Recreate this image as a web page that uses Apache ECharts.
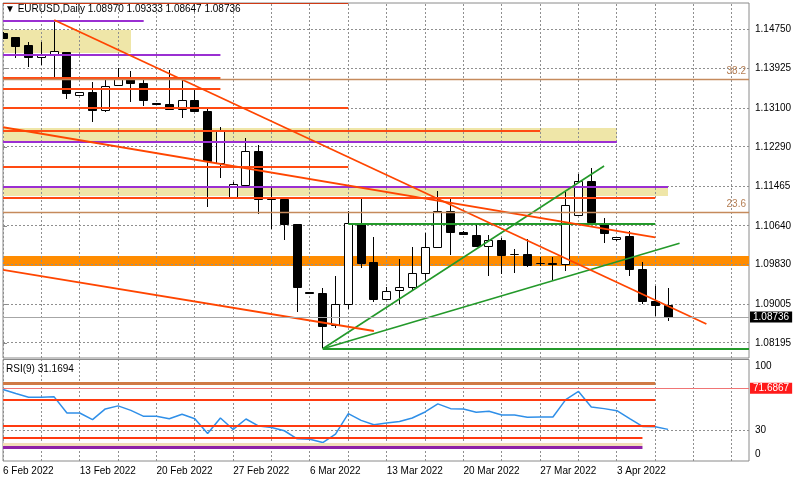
<!DOCTYPE html>
<html><head><meta charset="utf-8">
<script src="https://cdn.jsdelivr.net/npm/echarts@6/dist/echarts.min.js"></script>
<style>html,body{margin:0;padding:0;background:#fff}#c{width:800px;height:480px}</style>
</head><body><div id="c"></div>
<script>
// ---------------- data ----------------
const symbolName = 'EURUSD,Daily';
const weekLabels = ['6 Feb 2022','13 Feb 2022','20 Feb 2022','27 Feb 2022','6 Mar 2022','13 Mar 2022','20 Mar 2022','27 Mar 2022','3 Apr 2022'];
const priceTicks = [1.14750, 1.13925, 1.13100, 1.12290, 1.11465, 1.10640, 1.09830, 1.09005, 1.08195];
const rsiTicks = [0, 30, 100];
// [open, high, low, close], one per daily bar starting 6 Feb 2022 (Sun..Fri)
const candles = [
 [1.14656,1.14687,1.14541,1.14562],
 [1.14568,1.14589,1.14138,1.14395],
 [1.14401,1.14484,1.13963,1.14150],
 [1.14150,1.14484,1.13998,1.14207],
 [1.14221,1.14937,1.13754,1.14276],
 [1.14263,1.14269,1.13288,1.13407],
 [1.13357,1.13434,1.13351,1.13428],
 [1.13428,1.13643,1.12802,1.13052],
 [1.13044,1.13685,1.13023,1.13560],
 [1.13566,1.13942,1.13560,1.13706],
 [1.13706,1.13873,1.13232,1.13616],
 [1.13616,1.13754,1.13142,1.13253],
 [1.13190,1.13194,1.13173,1.13184],
 [1.13178,1.13894,1.13059,1.13073],
 [1.13073,1.13685,1.12885,1.13267],
 [1.13267,1.13476,1.13017,1.13023],
 [1.13038,1.13094,1.11040,1.11994],
 [1.11946,1.12710,1.11645,1.12641],
 [1.11236,1.11555,1.11228,1.11507],
 [1.11493,1.12480,1.11472,1.12188],
 [1.12188,1.12328,1.10887,1.11194],
 [1.11207,1.11424,1.10568,1.11194],
 [1.11200,1.11211,1.10345,1.10658],
 [1.10658,1.10669,1.08848,1.09357],
 [1.09249,1.09259,1.09228,1.09238],
 [1.09232,1.09336,1.08084,1.08535],
 [1.08570,1.09593,1.08501,1.09008],
 [1.09008,1.10956,1.08898,1.10679],
 [1.10658,1.11194,1.09754,1.09858],
 [1.09871,1.10413,1.09056,1.09107],
 [1.09107,1.09370,1.09092,1.09265],
 [1.09286,1.09942,1.09008,1.09357],
 [1.09357,1.10192,1.09286,1.09649],
 [1.09649,1.10484,1.09509,1.10192],
 [1.10184,1.11374,1.10178,1.10935],
 [1.10935,1.11194,1.10031,1.10505],
 [1.10505,1.10532,1.10449,1.10455],
 [1.10449,1.10658,1.10198,1.10205],
 [1.10205,1.10449,1.09593,1.10324],
 [1.10324,1.10380,1.09635,1.10011],
 [1.10052,1.10150,1.09662,1.10042],
 [1.10052,1.10359,1.09791,1.09802],
 [1.09864,1.09996,1.09802,1.09854],
 [1.09844,1.09996,1.09509,1.09833],
 [1.09837,1.11353,1.09704,1.11061],
 [1.10866,1.11722,1.10866,1.11576],
 [1.11576,1.11841,1.10699,1.10706],
 [1.10658,1.10798,1.10288,1.10470],
 [1.10345,1.10407,1.10334,1.10401],
 [1.10413,1.10539,1.09593,1.09733],
 [1.09733,1.09892,1.09008,1.09071],
 [1.09056,1.09384,1.08758,1.08973],
 [1.08970,1.09333,1.08647,1.08736]
];
const rsiValues = [70.5,66.5,62.8,62.8,63.2,47.3,47.3,40.7,51.3,54.3,49.9,44.0,44.0,41.7,46.0,41.7,27.1,42.4,31.1,41.4,
 34.4,33.1,29.8,21.8,21.5,18.2,26.5,46.7,40.0,35.7,37.4,39.0,42.4,48.3,56.3,51.6,51.3,48.0,49.0,45.3,
 45.3,43.0,43.4,43.4,60.5,68.5,53.3,51.6,49.6,41.7,34.1,33.7,31.1694];
const rsiPeriod = 9;
const bidPrice = 1.08736;
// horizontal levels: [price, fromBar, toBar]
const purpleLevels = [[1.14910,0,11],[1.14213,0,17],[1.12384,0,48],[1.11457,0,52]];
const orangeLevels = [[1.13733,0,17],[1.13491,0,17],[1.13107,0,27],[1.12620,0,42],[1.11875,0,27],[1.11215,0,51]];
const topLevels = [[1.15288,0,27]];
const greenLevels = [[1.10679,27,51],[1.08075,25,60]];
const fibLevels = [[38.2,1.13706],[23.6,1.10914]];
// trend lines: [bar1, price1, bar2, price2]
const greenTrends = [[25,1.08075,47,1.11889],[25,1.08075,52.9,1.10276]];
const redTrends = [[4,1.14937,55,1.08591],[0,1.12699,51,1.10401],[0,1.09722,29,1.08445]];
// zones: [topPrice, bottomPrice, fromBar, toBar]
const yellowZones = [[1.14729,1.14255,0,10],[1.12688,1.12417,0,48],[1.11440,1.11263,0,52]];
const orangeBands = [[1.10011,1.09802,0,60]];
// RSI levels: [value, fromBar, toBar]
const rsiBrownLevels = [[76.6,0,51]];
const rsiRedLevels = [[59.7,0,51],[34.8,0,51],[22.9,0,50]];
const rsiBeigeLevels = [[16.6,0,50]];
const rsiPurpleLevels = [[13.2,0,50]];
const rsiMarkLevel = 71.6867;
const rsiGridLevels = [30];

// ---------------- layout / style ----------------
const FONT = 'Liberation Sans';
const FS = 10;
const X_MAX = 58.33;
const Y_MIN = 1.07881, Y_MAX = 1.15293;

const chart = echarts.init(document.getElementById('c'));

function clipOf(cs){ return {type:'rect', shape:{x:cs.x, y:cs.y, width:cs.width, height:cs.height}}; }

function segSeries(gi, segs, style, z){
  return {
    type:'custom', xAxisIndex:gi, yAxisIndex:gi, data:segs, z:z, silent:true, animation:false,
    renderItem:function(params, api){
      const a = api.coord([api.value(0), api.value(1)]);
      const b = api.coord([api.value(2), api.value(3)]);
      const w = style.lineWidth || 1;
      const snap = v => (w % 2 === 1) ? Math.round(v - 0.5) + 0.5 : Math.round(v);
      if (Math.abs(a[0]-b[0]) < 0.01) { a[0] = b[0] = snap(a[0]); }
      if (Math.abs(a[1]-b[1]) < 0.01) { a[1] = b[1] = snap(a[1]); }
      return {type:'line', shape:{x1:a[0],y1:a[1],x2:b[0],y2:b[1]},
        style:Object.assign({fill:null}, style), clipPath:clipOf(params.coordSys)};
    }
  };
}
function levelSegs(levels){ return levels.map(l => [l[1], l[0], l[2], l[0]]); }

function zoneSeries(gi, zones, color, z){
  return {
    type:'custom', xAxisIndex:gi, yAxisIndex:gi, data:zones, z:z, silent:true, animation:false,
    renderItem:function(params, api){
      const p1 = api.coord([api.value(2), api.value(0)]);
      const p2 = api.coord([api.value(3), api.value(1)]);
      const y1 = Math.round(Math.min(p1[1],p2[1])), y2 = Math.round(Math.max(p1[1],p2[1]));
      return {type:'rect', shape:{x:Math.round(p1[0]), y:y1, width:Math.round(p2[0]-p1[0]), height:y2-y1},
        style:{fill:color}, clipPath:clipOf(params.coordSys)};
    }
  };
}

// grid segments
const vGridSegsMain = [], vGridSegsRsi = [];
for (let i = 0; i <= X_MAX; i += 3) { vGridSegsMain.push([i, Y_MIN, i, Y_MAX]); vGridSegsRsi.push([i, 0, i, 100]); }
const hGridSegsMain = priceTicks.map(p => [0, p, X_MAX, p]);
const hGridSegsRsi = rsiGridLevels.map(v => [0, v, X_MAX, v]);
const gridStyle = {stroke:'#8f8f8f', lineWidth:1, lineDash:[2,2]};

const last = candles[candles.length-1];
const titleText = '\u25BC ' + symbolName + ' ' + last.map(v => v.toFixed(5)).join(' ');
const rsiTitle = 'RSI(' + rsiPeriod + ') ' + rsiValues[rsiValues.length-1].toFixed(4);

const candleSeries = {
  type:'custom', xAxisIndex:0, yAxisIndex:0, z:3, silent:true, animation:false,
  data:candles.map((c,i) => [i, c[0], c[1], c[2], c[3]]),
  renderItem:function(params, api){
    const i = api.value(0), o = api.value(1), h = api.value(2), l = api.value(3), c = api.value(4);
    const pO = api.coord([i,o]), pH = api.coord([i,h]), pL = api.coord([i,l]), pC = api.coord([i,c]);
    const x = Math.round(pO[0] - 0.5) + 0.5;
    const top = Math.round(Math.min(pO[1], pC[1]) - 0.5) + 0.5;
    const bot = Math.round(Math.max(pO[1], pC[1]) - 0.5) + 0.5;
    const bull = c >= o;
    return {type:'group', clipPath:clipOf(params.coordSys), children:[
      {type:'line', shape:{x1:x, y1:Math.round(pH[1]), x2:x, y2:Math.round(pL[1])}, style:{stroke:'#000', lineWidth:1}},
      {type:'rect', shape:{x:x-4, y:top, width:8, height:Math.max(bot-top,0)},
        style:{fill: bull ? '#fff' : '#000', stroke:'#000', lineWidth:1}}
    ]};
  }
};

const labelBase = {fontFamily:FONT, fontSize:FS, color:'#000'};

const option = {
  backgroundColor:'#fff',
  animation:false,
  textStyle:{fontFamily:FONT},
  title:[
    {text:titleText, left:5, top:4, padding:0, textStyle:{fontFamily:FONT, fontSize:FS, fontWeight:'normal', color:'#000'}},
    {text:rsiTitle, left:6, top:364, padding:0, textStyle:{fontFamily:FONT, fontSize:FS, fontWeight:'normal', color:'#000'}}
  ],
  grid:[
    {left:3, right:51, top:3, height:355, show:true, borderColor:'#8a8a8a', borderWidth:1, backgroundColor:'#fff', containLabel:false, outerBoundsMode:'none'},
    {left:3, right:51, top:359.5, height:101.5, show:true, borderColor:'#8a8a8a', borderWidth:1, backgroundColor:'#fff', containLabel:false, outerBoundsMode:'none'}
  ],
  xAxis:[
    {gridIndex:0, type:'value', min:0, max:X_MAX, interval:3, axisLine:{show:false}, axisTick:{show:false}, axisLabel:{show:false}, splitLine:{show:false}},
    {gridIndex:1, type:'value', min:0, max:X_MAX, interval:3, axisLine:{show:false}, axisTick:{show:false}, splitLine:{show:false},
      axisLabel:Object.assign({show:true, showMinLabel:true, showMaxLabel:false, align:'left', margin:5,
        formatter:function(v){ const k = Math.round(v); return (k % 6 === 0 && weekLabels[k/6]) ? weekLabels[k/6] : ''; }}, labelBase)}
  ],
  yAxis:[
    {gridIndex:0, type:'value', position:'right', min:Y_MIN, max:Y_MAX, axisLine:{show:false}, splitLine:{show:false},
      axisTick:{show:true, length:4, lineStyle:{color:'#8a8a8a'}, customValues:priceTicks},
      axisLabel:Object.assign({customValues:priceTicks, margin:6, showMinLabel:true, showMaxLabel:true, formatter:v => v.toFixed(5)}, labelBase)},
    {gridIndex:1, type:'value', position:'right', min:0, max:100, axisLine:{show:false}, splitLine:{show:false},
      axisTick:{show:false},
      axisLabel:Object.assign({customValues:rsiTicks, margin:6, showMinLabel:true, showMaxLabel:true,
        formatter:v => v === 100 ? '{t|100}' : (v === 0 ? '{b|0}' : String(v)),
        rich:{t:{padding:[13,0,0,0], fontFamily:FONT, fontSize:FS, color:'#000'}, b:{padding:[0,0,13,0], fontFamily:FONT, fontSize:FS, color:'#000'}}}, labelBase)}
  ],
  series:[
    zoneSeries(0, yellowZones, '#EFE6A8', 1),
    zoneSeries(0, orangeBands, '#FF8C00', 1),
    segSeries(0, vGridSegsMain, gridStyle, 1.5),
    segSeries(0, hGridSegsMain, gridStyle, 1.5),
    segSeries(1, vGridSegsRsi, gridStyle, 1.5),
    segSeries(1, hGridSegsRsi, gridStyle, 1.5),
    candleSeries,
    segSeries(0, levelSegs(purpleLevels), {stroke:'#9A2FD2', lineWidth:2}, 4),
    segSeries(0, levelSegs(orangeLevels), {stroke:'#FF4A12', lineWidth:2}, 4),
    segSeries(0, levelSegs(topLevels), {stroke:'#D03A14', lineWidth:2}, 4),
    segSeries(0, levelSegs(greenLevels), {stroke:'#23992A', lineWidth:2}, 4),
    segSeries(0, greenTrends, {stroke:'#23992A', lineWidth:1.6}, 4),
    segSeries(0, redTrends, {stroke:'#FF4500', lineWidth:1.8}, 4),
    {type:'line', xAxisIndex:0, yAxisIndex:0, data:[], z:4, silent:true,
      markLine:{silent:true, symbol:['none','none'], animation:false, precision:5,
        data:[
          {yAxis:bidPrice, lineStyle:{color:'#a6a6a6', width:1, type:'solid'},
            label:{show:true, position:'end', distance:1, formatter:bidPrice.toFixed(5), backgroundColor:'#000', color:'#fff', padding:[1,3,0,3], fontFamily:FONT, fontSize:FS}}
        ].concat(fibLevels.map(f => ({yAxis:f[1], lineStyle:{color:'#C58A5C', width:1.4, type:'solid'},
            label:{show:true, position:'insideEndTop', distance:3, formatter:f[0].toFixed(1), color:'#B57F55', fontFamily:FONT, fontSize:FS}})))
      }},
    {type:'line', xAxisIndex:1, yAxisIndex:1, data:rsiValues.map((v,i) => [i, v]), z:3, silent:true,
      showSymbol:false, symbol:'none', clip:true, lineStyle:{color:'#2F8FE8', width:1.5}},
    segSeries(1, levelSegs(rsiBrownLevels), {stroke:'#D07A45', lineWidth:3}, 4),
    segSeries(1, levelSegs(rsiRedLevels), {stroke:'#FF3A10', lineWidth:2}, 4),
    segSeries(1, levelSegs(rsiBeigeLevels), {stroke:'#F3DEB8', lineWidth:3}, 4),
    segSeries(1, levelSegs(rsiPurpleLevels), {stroke:'#8E22A8', lineWidth:3}, 4),
    {type:'line', xAxisIndex:1, yAxisIndex:1, data:[], z:4, silent:true,
      markLine:{silent:true, symbol:['none','none'], animation:false, precision:4,
        data:[{yAxis:rsiMarkLevel, lineStyle:{color:'#F07575', width:1, type:'solid'},
          label:{show:true, position:'end', distance:1, formatter:String(rsiMarkLevel), backgroundColor:'#FF1A1A', color:'#fff', padding:[1,3,0,3], fontFamily:FONT, fontSize:FS}}]}}
  ]
};
chart.setOption(option);
</script>
</body></html>
